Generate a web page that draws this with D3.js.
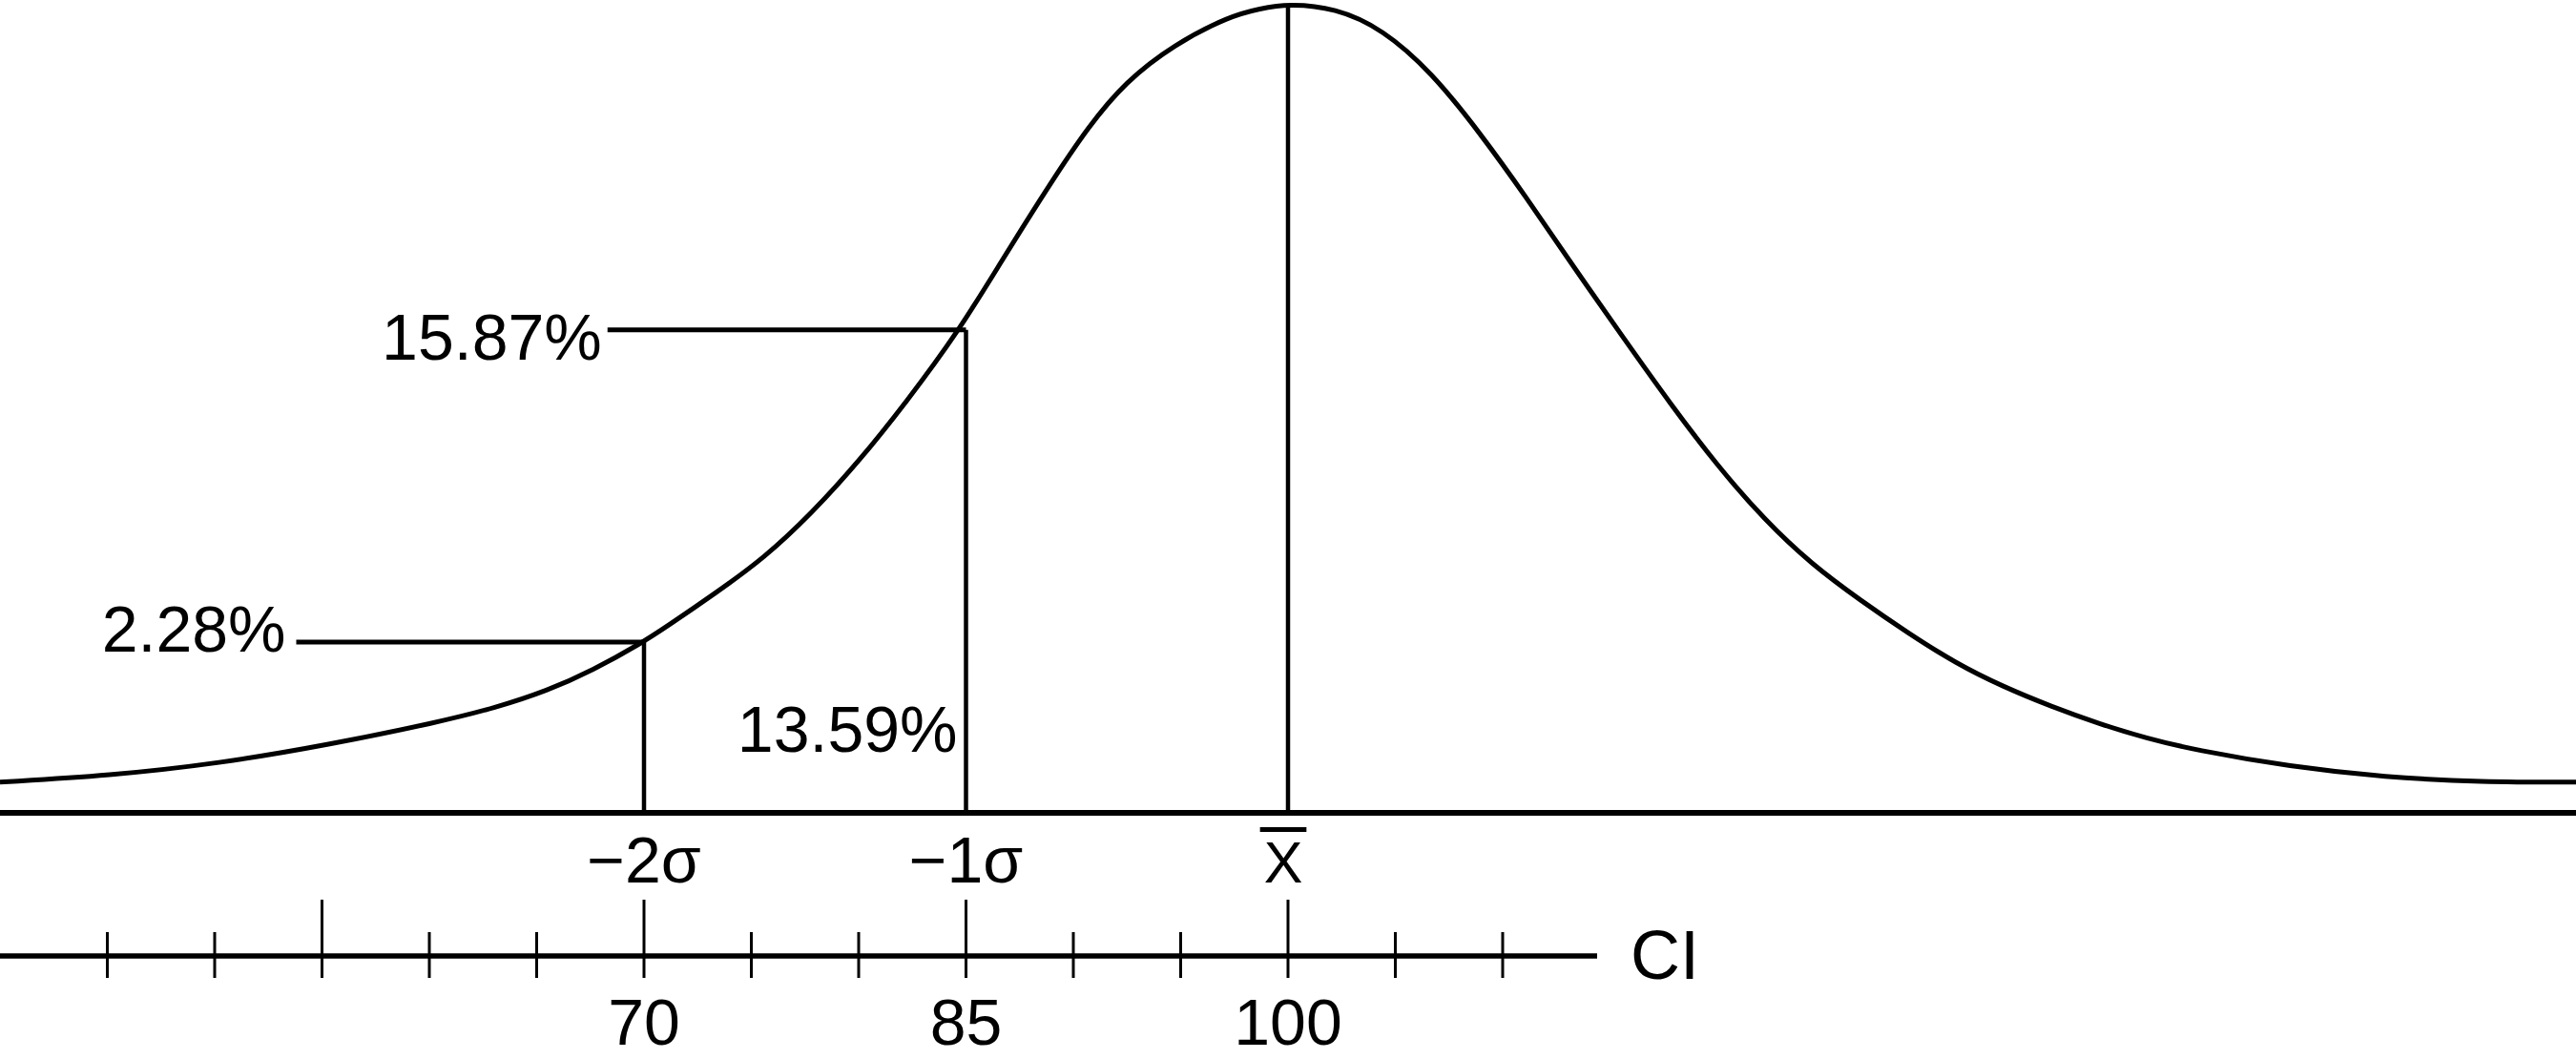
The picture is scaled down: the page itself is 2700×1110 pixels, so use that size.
<!DOCTYPE html>
<html>
<head>
<meta charset="utf-8">
<script src="https://cdn.jsdelivr.net/npm/d3@7"></script>
<style>
  body { margin: 0; background: #fff; }
  svg { display: block; }
  text { font-family: "Liberation Sans", Arial, Helvetica, sans-serif; fill: #000; }
</style>
</head>
<body>
<div id="chart"></div>
<script>
// normal curve as drawn: CI value along x, height in % of the peak
var curveCI = [40, 45.1, 50.2, 55.3, 60.4, 63.1, 65.5, 67.6, 69.9, 71.1, 73.3, 75.6, 77.8,
  80.0, 82.2, 84.7, 86.7, 89.0, 90.7, 92.4, 94.7, 97.3, 98.7, 100,
  102.2, 104.4, 106.7, 108.9, 111.1, 113.3, 115.6, 117.8, 120.0, 122.2, 124.4, 126.7,
  128.9, 131.1, 133.3, 135.6, 137.8, 140.0, 142.2, 146.7, 151.1, 155.6, 160];
var curveHeight = [3.8, 4.6, 6.1, 8.4, 11.2, 13.0, 15.1, 17.6, 21.0, 23.1, 27.1, 31.5, 37.0,
  43.4, 50.7, 59.7, 68.4, 78.1, 84.8, 90.3, 95.0, 98.5, 99.4, 100,
  99.5, 96.9, 91.5, 84.2, 76.1, 67.5, 58.8, 50.6, 42.9, 36.2, 30.7, 26.2,
  22.2, 18.5, 15.6, 13.1, 11.0, 9.2, 7.8, 5.7, 4.4, 3.8, 3.8];

// marks on the curve
var markCI = [70, 85, 100];
var markHeight = [21.1, 59.7, 100];
var markLabels = ["\u22122\u03c3", "\u22121\u03c3", "X"];

var pctLabels = ["2.28%", "15.87%"];
var pctLineStart = [53.8, 68.3];
var areaLabel = "13.59%";

// CI scale underneath
var ciTicks = [45, 50, 55, 60, 65, 70, 75, 80, 85, 90, 95, 100, 105, 110];
var ciLongTicks = [55, 70, 85, 100];
var ciTickLabels = [70, 85, 100];
var ciAxisEnd = 114.4;
var ciTitle = "CI";

var svgWidth = 2700;
var svgHeight = 1110;
var baseY = 852;    // baseline of the curve
var ciAxisY = 1002; // CI scale line

var svg = d3.select("#chart")
  .append("svg")
  .attr("width", svgWidth)
  .attr("height", svgHeight);

var x = d3.scaleLinear().domain([40, 160]).range([0, svgWidth]);
var y = d3.scaleLinear().domain([0, 100]).range([baseY, 4]);

var points = curveCI.map(function (c, i) { return [c, curveHeight[i]]; });

var line = d3.line()
  .x(d => x(d[0]))
  .y(d => y(d[1]))
  .curve(d3.curveBasis);

// baseline
svg.append("line")
  .attr("x1", x(40)).attr("x2", x(160))
  .attr("y1", y(0)).attr("y2", y(0))
  .attr("stroke", "#000").attr("stroke-width", 6);

// the curve
svg.append("path")
  .datum(points)
  .attr("d", line)
  .attr("fill", "none")
  .attr("stroke", "#000")
  .attr("stroke-width", 5);

// verticals at -2s, -1s, mean
svg.selectAll(null)
  .data(markCI)
  .enter().append("line")
  .attr("x1", d => x(d)).attr("x2", d => x(d))
  .attr("y1", y(0))
  .attr("y2", (d, i) => y(markHeight[i]))
  .attr("stroke", "#000")
  .attr("stroke-width", 4.5);

// leader lines for the percentages
svg.selectAll(null)
  .data(pctLabels)
  .enter().append("line")
  .attr("x1", (d, i) => x(pctLineStart[i]))
  .attr("x2", (d, i) => x(markCI[i]))
  .attr("y1", (d, i) => y(markHeight[i]))
  .attr("y2", (d, i) => y(markHeight[i]))
  .attr("stroke", "#000")
  .attr("stroke-width", 5);

var pctGap = [11, 6];
var pctDy = [10, 31];
svg.selectAll(null)
  .data(pctLabels)
  .enter().append("text")
  .attr("x", (d, i) => x(pctLineStart[i]) - pctGap[i])
  .attr("y", (d, i) => y(markHeight[i]) + pctDy[i])
  .attr("text-anchor", "end")
  .attr("font-size", "68px")
  .text(d => d);

// area between -2s and -1s
svg.append("text")
  .attr("x", x(markCI[1]) - 9)
  .attr("y", 788)
  .attr("text-anchor", "end")
  .attr("font-size", "68px")
  .text(areaLabel);

// sigma labels under the baseline
var markText = svg.selectAll(null)
  .data(markLabels)
  .enter().append("text")
  .attr("x", (d, i) => x(markCI[i]) - (i == 2 ? 5 : 0))
  .attr("y", 925)
  .attr("text-anchor", "middle")
  .attr("font-size", (d, i) => i == 2 ? "61px" : "68px")
  .text(d => d);

// bar over the X (mean)
var xbar = markText.filter((d, i) => i == 2).node().getBBox();
svg.append("line")
  .attr("x1", xbar.x - 4).attr("x2", xbar.x + xbar.width + 4)
  .attr("y1", 869.5).attr("y2", 869.5)
  .attr("stroke", "#000").attr("stroke-width", 5);

// CI scale
svg.append("line")
  .attr("x1", x(40)).attr("x2", x(ciAxisEnd))
  .attr("y1", ciAxisY).attr("y2", ciAxisY)
  .attr("stroke", "#000").attr("stroke-width", 5.5);

svg.selectAll(null)
  .data(ciTicks)
  .enter().append("line")
  .attr("x1", d => x(d)).attr("x2", d => x(d))
  .attr("y1", d => ciLongTicks.indexOf(d) >= 0 ? ciAxisY - 59 : ciAxisY - 25)
  .attr("y2", ciAxisY + 23)
  .attr("stroke", "#000")
  .attr("stroke-width", 3);

svg.selectAll(null)
  .data(ciTickLabels)
  .enter().append("text")
  .attr("x", d => x(d))
  .attr("y", 1095)
  .attr("text-anchor", "middle")
  .attr("font-size", "68px")
  .text(d => d);

svg.append("text")
  .attr("x", x(ciAxisEnd) + 35)
  .attr("y", 1026)
  .attr("font-size", "72px")
  .text(ciTitle);
</script>
</body>
</html>
